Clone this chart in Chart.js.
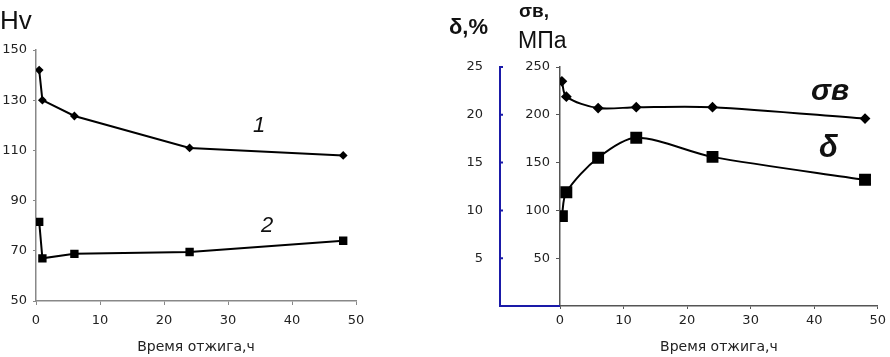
<!DOCTYPE html>
<html>
<head>
<meta charset="utf-8">
<script src="https://cdn.jsdelivr.net/npm/chart.js@4.4.0/dist/chart.umd.min.js"></script>
<style>
  html, body { margin: 0; padding: 0; background: #fff; }
  #wrap { position: relative; width: 890px; height: 357px; overflow: hidden; }
  .box { position: absolute; top: 0; height: 357px; }
  #leftBox { left: 0; width: 430px; }
  #rightBox { left: 440px; width: 450px; }
</style>
</head>
<body>
<div id="wrap">
  <div class="box" id="leftBox"><canvas id="hvChart"></canvas></div>
  <div class="box" id="rightBox"><canvas id="mechChart"></canvas></div>
</div>
<script>
// left chart: hardness Hv vs annealing time
const hvTime = [0.5, 1, 6, 24, 48];
const hv1 = [142, 130, 123.7, 111, 108];
const hv2 = [81.5, 67, 68.8, 69.5, 74];
const hvTicks = [50, 70, 90, 110, 130, 150];

// right chart: strength and elongation vs annealing time
const mechTime = [0.3, 1, 6, 12, 24, 48];
const sigmaB = [235, 219, 207, 208, 208, 196];
const delta = [9.4, 11.9, 15.5, 17.6, 15.6, 13.2];
const sigmaTicks = [50, 100, 150, 200, 250];
const deltaTicks = [5, 10, 15, 20, 25];
const timeTicks = [0, 10, 20, 30, 40, 50];

const xTitle = 'Время отжига,ч';
const tickFont = { family: 'DejaVu Sans', size: 13 };

function points(xs, ys) {
    return xs.map((x, i) => ({ x: x, y: ys[i] }));
}

function useTicks(values) {
    return function (scale) {
        scale.ticks = values.map(v => ({ value: v }));
    };
}

// draws free text and axis decorations
const textPlugin = {
    id: 'texts',
    afterDraw(chart, args, opts) {
        const ctx = chart.ctx;
        const area = chart.chartArea;
        ctx.save();
        ctx.fillStyle = '#111';
        ctx.textBaseline = 'alphabetic';
        (opts.items || []).forEach(t => {
            ctx.font = t.font;
            ctx.textAlign = t.align || 'left';
            ctx.fillText(t.text, t.x, t.y);
        });
        // x title
        ctx.font = '14px "DejaVu Sans"';
        ctx.textAlign = 'center';
        ctx.fillStyle = '#222';
        ctx.fillText(xTitle, (area.left + area.right) / 2, chart.height - 6);

        const yd = chart.scales.yd;
        if (yd) {
            ctx.strokeStyle = '#1a1aa8';
            ctx.lineWidth = 2;
            ctx.beginPath();
            ctx.moveTo(yd.right - 1, area.bottom);
            ctx.lineTo(area.left, area.bottom);
            deltaTicks.forEach(v => {
                const py = yd.getPixelForValue(v);
                ctx.moveTo(yd.right - 1, py);
                ctx.lineTo(yd.right + 3, py);
            });
            ctx.stroke();
        }
        ctx.restore();
    }
};

const hvCtx = document.getElementById('hvChart').getContext('2d');
new Chart(hvCtx, {
    type: 'line',
    data: {
        datasets: [{
            data: points(hvTime, hv1),
            borderColor: '#000',
            backgroundColor: '#000',
            borderWidth: 2,
            pointStyle: 'rectRot',
            pointRadius: 3,
            tension: 0,
        }, {
            data: points(hvTime, hv2),
            borderColor: '#000',
            backgroundColor: '#000',
            borderWidth: 2,
            pointStyle: 'rect',
            pointRadius: 4.5,
            tension: 0,
        }],
    },
    options: {
        responsive: true,
        maintainAspectRatio: false,
        animation: false,
        layout: { padding: { left: 0, top: 50, right: 74, bottom: 0 } },
        plugins: {
            legend: { display: false },
            tooltip: { enabled: false },
            texts: {
                items: [
                    { text: 'Hv', x: 0, y: 29, font: '26px "Liberation Sans"' },
                    { text: '1', x: 259, y: 132, font: 'italic 22px "Liberation Sans"', align: 'center' },
                    { text: '2', x: 267, y: 232, font: 'italic 22px "Liberation Sans"', align: 'center' },
                ],
            },
        },
        scales: {
            x: {
                type: 'linear',
                min: 0,
                max: 50,
                afterBuildTicks: useTicks(timeTicks),
                afterFit(scale) { scale.height = 56; },
                grid: { drawOnChartArea: false, tickLength: 4, color: '#888' },
                border: { color: '#888', width: 1.5 },
                ticks: { color: '#222', font: tickFont, padding: 8, maxRotation: 0 },
            },
            y: {
                min: 50,
                max: 150,
                afterBuildTicks: useTicks(hvTicks),
                afterFit(scale) { scale.width = 36; },
                grid: { drawOnChartArea: false, tickLength: 3, color: '#888' },
                border: { color: '#888', width: 1.5 },
                ticks: { color: '#222', font: tickFont, padding: 6 },
            },
        },
    },
    plugins: [textPlugin],
});

const mechCtx = document.getElementById('mechChart').getContext('2d');
new Chart(mechCtx, {
    type: 'line',
    data: {
        datasets: [{
            data: points(mechTime, sigmaB),
            yAxisID: 'y',
            borderColor: '#000',
            backgroundColor: '#000',
            borderWidth: 2,
            pointStyle: 'rectRot',
            pointRadius: 4,
            tension: 0.3,
        }, {
            data: points(mechTime, delta),
            yAxisID: 'yd',
            borderColor: '#000',
            backgroundColor: '#000',
            borderWidth: 2,
            pointStyle: 'rect',
            pointRadius: 7,
            tension: 0.3,
        }],
    },
    options: {
        responsive: true,
        maintainAspectRatio: false,
        animation: false,
        layout: { padding: { left: 0, top: 67, right: 11, bottom: 0 } },
        plugins: {
            legend: { display: false },
            tooltip: { enabled: false },
            texts: {
                items: [
                    { text: 'δ,%', x: 9, y: 34, font: 'bold 22px "Liberation Sans"' },
                    { text: 'σв,', x: 79, y: 17, font: 'bold 19px "Liberation Sans"' },
                    { text: 'МПа', x: 78, y: 48, font: '23px "Liberation Sans"' },
                    { text: 'σв', x: 371, y: 100, font: 'italic bold 30px "Liberation Sans"' },
                    { text: 'δ', x: 379, y: 157, font: 'italic bold 31px "Liberation Sans"' },
                ],
            },
        },
        scales: {
            x: {
                type: 'linear',
                min: 0,
                max: 50,
                afterBuildTicks: useTicks(timeTicks),
                afterFit(scale) { scale.height = 51; },
                grid: { drawOnChartArea: false, tickLength: 3, color: '#555' },
                border: { color: '#555', width: 1.5 },
                ticks: { color: '#222', font: tickFont, padding: 4, maxRotation: 0 },
            },
            y: {
                position: 'left',
                weight: 0,
                min: 0,
                max: 250,
                afterBuildTicks: useTicks(sigmaTicks),
                afterFit(scale) { scale.width = 60; },
                grid: { drawOnChartArea: false, tickLength: 4, color: '#555' },
                border: { color: '#555', width: 1.5 },
                ticks: { color: '#222', font: tickFont, padding: 6 },
            },
            yd: {
                position: 'left',
                weight: 10,
                min: 0,
                max: 25,
                afterBuildTicks: useTicks(deltaTicks),
                afterFit(scale) { scale.width = 60; },
                grid: { drawOnChartArea: false, drawTicks: false },
                border: { color: '#1a1aa8', width: 2 },
                ticks: { color: '#222', font: tickFont, padding: 17 },
            },
        },
    },
    plugins: [textPlugin],
});
</script>
</body>
</html>
